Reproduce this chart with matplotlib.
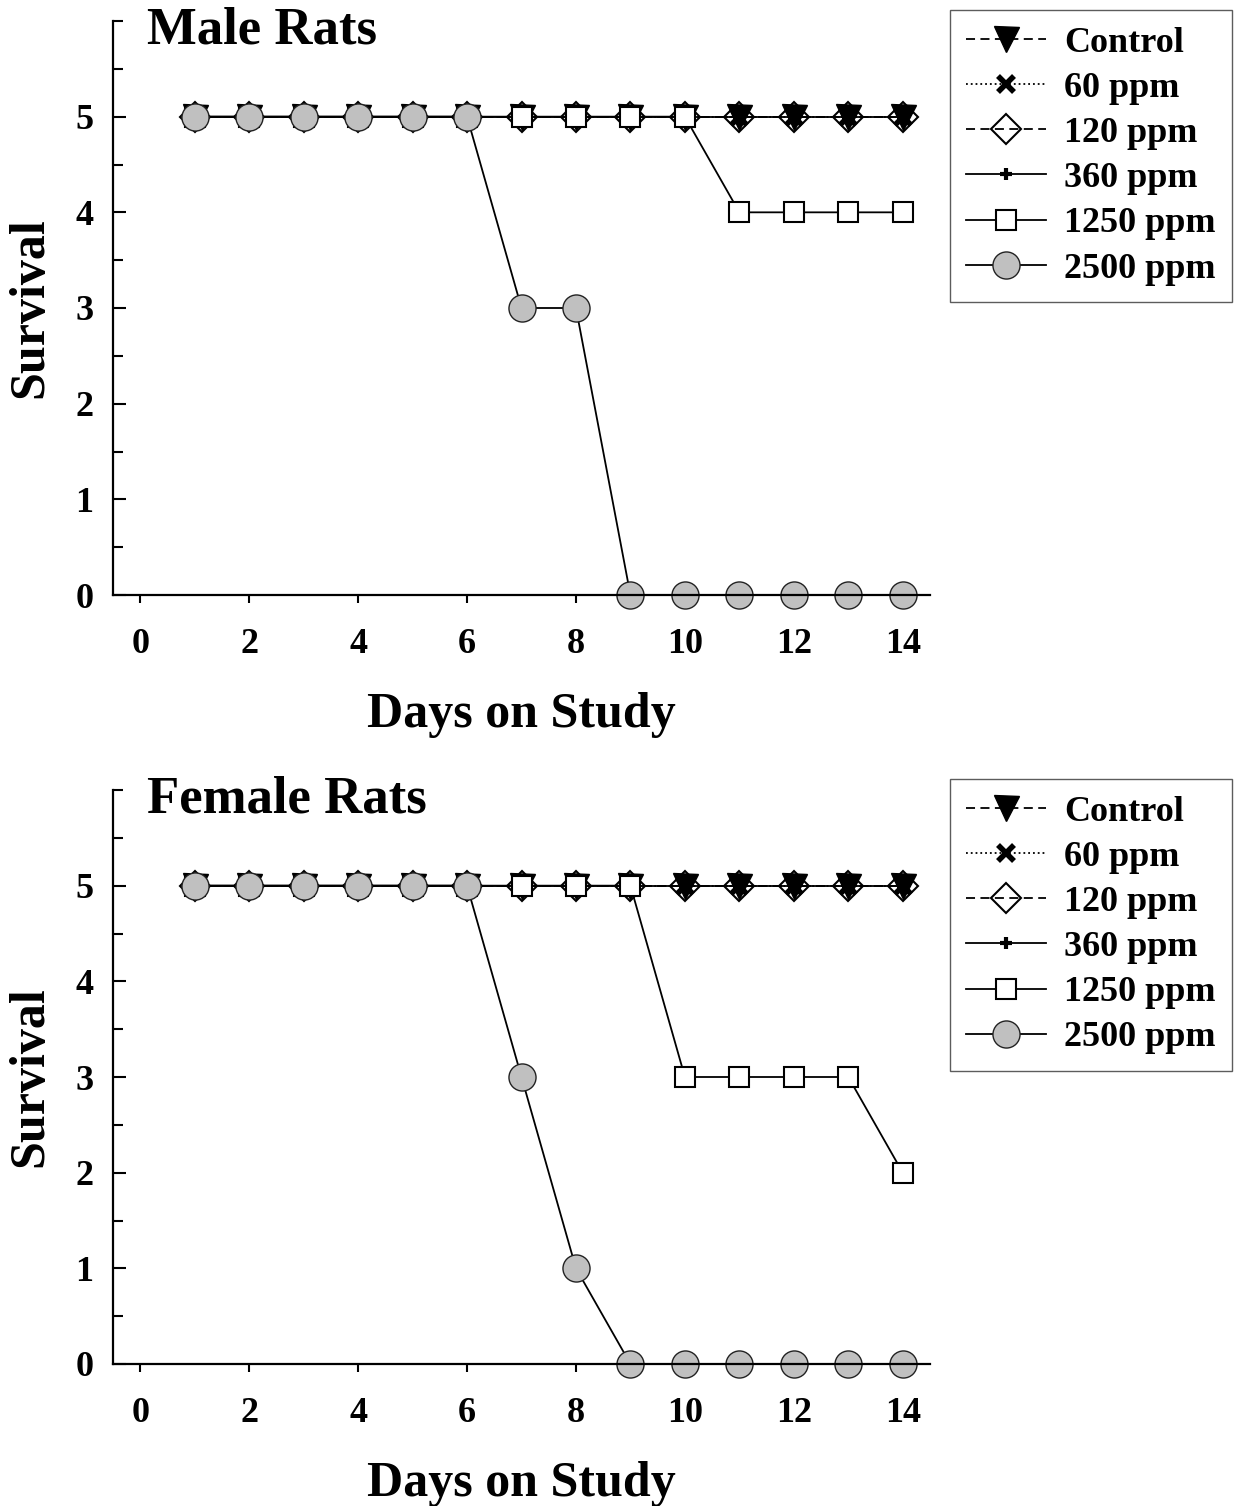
"""
Survival curves for male and female rats over 14 days on study.
"""

import matplotlib
matplotlib.use("Agg")
import matplotlib.pyplot as plt
from matplotlib.ticker import MultipleLocator

plt.rcParams["font.family"] = ["Liberation Serif", "DejaVu Serif"]
plt.rcParams["font.weight"] = "bold"

days = list(range(1, 15))
groups = ["Control", "60 ppm", "120 ppm", "360 ppm", "1250 ppm", "2500 ppm"]

male_control = [5] * 14
male_60 = [5] * 14
male_120 = [5] * 14
male_360 = [5] * 14
male_1250 = [5, 5, 5, 5, 5, 5, 5, 5, 5, 5, 4, 4, 4, 4]
male_2500 = [5, 5, 5, 5, 5, 5, 3, 3, 0, 0, 0, 0, 0, 0]

female_control = [5] * 14
female_60 = [5] * 14
female_120 = [5] * 14
female_360 = [5] * 14
female_1250 = [5, 5, 5, 5, 5, 5, 5, 5, 5, 3, 3, 3, 3, 2]
female_2500 = [5, 5, 5, 5, 5, 5, 3, 1, 0, 0, 0, 0, 0, 0]

GREY = "#c0c0c0"
STYLES = [
    dict(linestyle=(0, (5, 3)), marker="v", markersize=18, mfc="black", mec="black"),
    dict(linestyle=":", marker="x", markersize=12, mec="black", mew=4),
    dict(linestyle=(0, (5, 3)), marker="D", markersize=15, mfc="none", mec="black", mew=1.5),
    dict(linestyle="-", marker="+", markersize=9, mec="black", mew=3),
    dict(linestyle="-", marker="s", markersize=14, mfc="white", mec="black", mew=1.5),
    dict(linestyle="-", marker="o", markersize=19.5, mfc=GREY, mec="#222222", mew=1.0),
]

W, H = 1237, 1506
fig = plt.figure(figsize=(W / 100, H / 100), dpi=100)


def px_axes(left, top, right, bottom):
    return fig.add_axes([left / W, 1 - bottom / H, (right - left) / W, (bottom - top) / H])


def draw_panel(ax, series, title, legend_top):
    for vals, name, st in zip(series, groups, STYLES):
        ax.plot(days, vals, color="black", linewidth=1.3, label=name, clip_on=False, **st)

    ax.set_xlim(-0.5, 14.5)
    ax.set_ylim(0, 6)
    ax.spines["top"].set_visible(False)
    ax.spines["right"].set_visible(False)
    ax.spines["left"].set_linewidth(1.6)
    ax.spines["bottom"].set_linewidth(1.6)

    ax.set_xticks(range(0, 15, 2))
    ax.set_yticks(range(0, 6))
    ax.yaxis.set_minor_locator(MultipleLocator(0.5))
    ax.tick_params(axis="x", direction="out", length=6, width=1.5, pad=18, labelsize=26)
    ax.tick_params(axis="y", which="major", direction="in", length=9, width=1.5, pad=14, labelsize=26)
    ax.tick_params(axis="y", which="minor", direction="in", length=7, width=1.5)
    for lab in ax.get_xticklabels() + ax.get_yticklabels():
        lab.set_fontweight("bold")

    ax.set_xlabel("Days on Study", fontsize=36, fontweight="bold", labelpad=22)
    ax.set_ylabel("Survival", fontsize=36, fontweight="bold", labelpad=16)
    ax.text(0.042, 0.96, title, transform=ax.transAxes, fontsize=38,
            fontweight="bold", ha="left", va="baseline")

    leg = ax.legend(loc="upper left", bbox_to_anchor=(950 / W, 1 - legend_top / H),
                    bbox_transform=fig.transFigure, borderaxespad=0,
                    fontsize=26, frameon=True, fancybox=False, handlelength=2.2,
                    handletextpad=0.5, labelspacing=0.33, borderpad=0.45)
    leg.get_frame().set_edgecolor("#333333")
    leg.get_frame().set_linewidth(1.0)
    for t in leg.get_texts():
        t.set_fontweight("bold")


ax_m = px_axes(113, 21, 930, 595)
draw_panel(ax_m, [male_control, male_60, male_120, male_360, male_1250, male_2500],
           "Male Rats", 10)

ax_f = px_axes(113, 790, 930, 1364)
draw_panel(ax_f, [female_control, female_60, female_120, female_360, female_1250, female_2500],
           "Female Rats", 779)

fig.savefig("out.png", dpi=100)
